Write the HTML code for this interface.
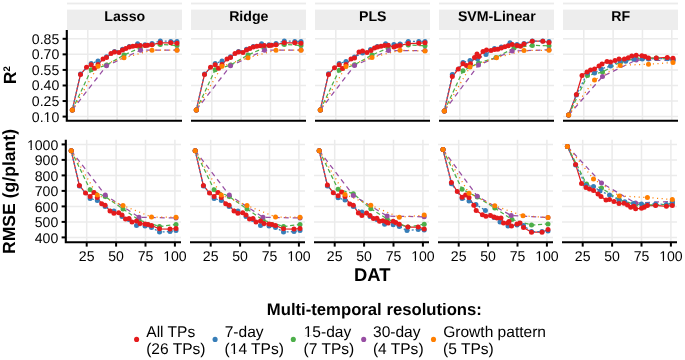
<!DOCTYPE html>
<html><head><meta charset="utf-8"><style>html,body{margin:0;padding:0;background:#fff;width:685px;height:360px;overflow:hidden}svg{display:block;will-change:transform}text{font-family:"Liberation Sans",sans-serif;text-rendering:geometricPrecision}</style></head><body>
<svg width="685" height="360" viewBox="0 0 685 360">
<rect width="685" height="360" fill="#fff"/>
<rect x="67" y="2.6" width="115" height="1.8" fill="#EBEBEB"/>
<rect x="67" y="9.6" width="115" height="20.40" fill="#EDEDED"/>
<text x="124.8" y="21.1" font-family="Liberation Sans, sans-serif" font-weight="bold" font-size="14.15" text-anchor="middle">Lasso</text>
<line x1="87.80" y1="29.9" x2="87.80" y2="120.7" stroke="#EBEBEB" stroke-width="1.5"/>
<line x1="117.13" y1="29.9" x2="117.13" y2="120.7" stroke="#EBEBEB" stroke-width="1.5"/>
<line x1="146.47" y1="29.9" x2="146.47" y2="120.7" stroke="#EBEBEB" stroke-width="1.5"/>
<line x1="175.80" y1="29.9" x2="175.80" y2="120.7" stroke="#EBEBEB" stroke-width="1.5"/>
<line x1="67" y1="116.60" x2="182" y2="116.60" stroke="#EBEBEB" stroke-width="1.5"/>
<line x1="67" y1="101.04" x2="182" y2="101.04" stroke="#EBEBEB" stroke-width="1.5"/>
<line x1="67" y1="85.48" x2="182" y2="85.48" stroke="#EBEBEB" stroke-width="1.5"/>
<line x1="67" y1="69.92" x2="182" y2="69.92" stroke="#EBEBEB" stroke-width="1.5"/>
<line x1="67" y1="54.36" x2="182" y2="54.36" stroke="#EBEBEB" stroke-width="1.5"/>
<line x1="67" y1="38.80" x2="182" y2="38.80" stroke="#EBEBEB" stroke-width="1.5"/>
<line x1="86.70" y1="139.8" x2="86.70" y2="242.2" stroke="#EBEBEB" stroke-width="1.5"/>
<line x1="116.10" y1="139.8" x2="116.10" y2="242.2" stroke="#EBEBEB" stroke-width="1.5"/>
<line x1="145.50" y1="139.8" x2="145.50" y2="242.2" stroke="#EBEBEB" stroke-width="1.5"/>
<line x1="174.90" y1="139.8" x2="174.90" y2="242.2" stroke="#EBEBEB" stroke-width="1.5"/>
<line x1="66" y1="237.40" x2="181" y2="237.40" stroke="#EBEBEB" stroke-width="1.5"/>
<line x1="66" y1="221.90" x2="181" y2="221.90" stroke="#EBEBEB" stroke-width="1.5"/>
<line x1="66" y1="206.40" x2="181" y2="206.40" stroke="#EBEBEB" stroke-width="1.5"/>
<line x1="66" y1="190.90" x2="181" y2="190.90" stroke="#EBEBEB" stroke-width="1.5"/>
<line x1="66" y1="175.40" x2="181" y2="175.40" stroke="#EBEBEB" stroke-width="1.5"/>
<line x1="66" y1="159.90" x2="181" y2="159.90" stroke="#EBEBEB" stroke-width="1.5"/>
<line x1="66" y1="144.40" x2="181" y2="144.40" stroke="#EBEBEB" stroke-width="1.5"/>
<rect x="191" y="2.6" width="115" height="1.8" fill="#EBEBEB"/>
<rect x="191" y="9.6" width="115" height="20.40" fill="#EDEDED"/>
<text x="248.8" y="21.1" font-family="Liberation Sans, sans-serif" font-weight="bold" font-size="14.15" text-anchor="middle">Ridge</text>
<line x1="211.80" y1="29.9" x2="211.80" y2="120.7" stroke="#EBEBEB" stroke-width="1.5"/>
<line x1="241.13" y1="29.9" x2="241.13" y2="120.7" stroke="#EBEBEB" stroke-width="1.5"/>
<line x1="270.47" y1="29.9" x2="270.47" y2="120.7" stroke="#EBEBEB" stroke-width="1.5"/>
<line x1="299.80" y1="29.9" x2="299.80" y2="120.7" stroke="#EBEBEB" stroke-width="1.5"/>
<line x1="191" y1="116.60" x2="306" y2="116.60" stroke="#EBEBEB" stroke-width="1.5"/>
<line x1="191" y1="101.04" x2="306" y2="101.04" stroke="#EBEBEB" stroke-width="1.5"/>
<line x1="191" y1="85.48" x2="306" y2="85.48" stroke="#EBEBEB" stroke-width="1.5"/>
<line x1="191" y1="69.92" x2="306" y2="69.92" stroke="#EBEBEB" stroke-width="1.5"/>
<line x1="191" y1="54.36" x2="306" y2="54.36" stroke="#EBEBEB" stroke-width="1.5"/>
<line x1="191" y1="38.80" x2="306" y2="38.80" stroke="#EBEBEB" stroke-width="1.5"/>
<line x1="210.70" y1="139.8" x2="210.70" y2="242.2" stroke="#EBEBEB" stroke-width="1.5"/>
<line x1="240.10" y1="139.8" x2="240.10" y2="242.2" stroke="#EBEBEB" stroke-width="1.5"/>
<line x1="269.50" y1="139.8" x2="269.50" y2="242.2" stroke="#EBEBEB" stroke-width="1.5"/>
<line x1="298.90" y1="139.8" x2="298.90" y2="242.2" stroke="#EBEBEB" stroke-width="1.5"/>
<line x1="190" y1="237.40" x2="305" y2="237.40" stroke="#EBEBEB" stroke-width="1.5"/>
<line x1="190" y1="221.90" x2="305" y2="221.90" stroke="#EBEBEB" stroke-width="1.5"/>
<line x1="190" y1="206.40" x2="305" y2="206.40" stroke="#EBEBEB" stroke-width="1.5"/>
<line x1="190" y1="190.90" x2="305" y2="190.90" stroke="#EBEBEB" stroke-width="1.5"/>
<line x1="190" y1="175.40" x2="305" y2="175.40" stroke="#EBEBEB" stroke-width="1.5"/>
<line x1="190" y1="159.90" x2="305" y2="159.90" stroke="#EBEBEB" stroke-width="1.5"/>
<line x1="190" y1="144.40" x2="305" y2="144.40" stroke="#EBEBEB" stroke-width="1.5"/>
<rect x="315" y="2.6" width="115" height="1.8" fill="#EBEBEB"/>
<rect x="315" y="9.6" width="115" height="20.40" fill="#EDEDED"/>
<text x="372.8" y="21.1" font-family="Liberation Sans, sans-serif" font-weight="bold" font-size="14.15" text-anchor="middle">PLS</text>
<line x1="335.80" y1="29.9" x2="335.80" y2="120.7" stroke="#EBEBEB" stroke-width="1.5"/>
<line x1="365.13" y1="29.9" x2="365.13" y2="120.7" stroke="#EBEBEB" stroke-width="1.5"/>
<line x1="394.47" y1="29.9" x2="394.47" y2="120.7" stroke="#EBEBEB" stroke-width="1.5"/>
<line x1="423.80" y1="29.9" x2="423.80" y2="120.7" stroke="#EBEBEB" stroke-width="1.5"/>
<line x1="315" y1="116.60" x2="430" y2="116.60" stroke="#EBEBEB" stroke-width="1.5"/>
<line x1="315" y1="101.04" x2="430" y2="101.04" stroke="#EBEBEB" stroke-width="1.5"/>
<line x1="315" y1="85.48" x2="430" y2="85.48" stroke="#EBEBEB" stroke-width="1.5"/>
<line x1="315" y1="69.92" x2="430" y2="69.92" stroke="#EBEBEB" stroke-width="1.5"/>
<line x1="315" y1="54.36" x2="430" y2="54.36" stroke="#EBEBEB" stroke-width="1.5"/>
<line x1="315" y1="38.80" x2="430" y2="38.80" stroke="#EBEBEB" stroke-width="1.5"/>
<line x1="334.70" y1="139.8" x2="334.70" y2="242.2" stroke="#EBEBEB" stroke-width="1.5"/>
<line x1="364.10" y1="139.8" x2="364.10" y2="242.2" stroke="#EBEBEB" stroke-width="1.5"/>
<line x1="393.50" y1="139.8" x2="393.50" y2="242.2" stroke="#EBEBEB" stroke-width="1.5"/>
<line x1="422.90" y1="139.8" x2="422.90" y2="242.2" stroke="#EBEBEB" stroke-width="1.5"/>
<line x1="314" y1="237.40" x2="429" y2="237.40" stroke="#EBEBEB" stroke-width="1.5"/>
<line x1="314" y1="221.90" x2="429" y2="221.90" stroke="#EBEBEB" stroke-width="1.5"/>
<line x1="314" y1="206.40" x2="429" y2="206.40" stroke="#EBEBEB" stroke-width="1.5"/>
<line x1="314" y1="190.90" x2="429" y2="190.90" stroke="#EBEBEB" stroke-width="1.5"/>
<line x1="314" y1="175.40" x2="429" y2="175.40" stroke="#EBEBEB" stroke-width="1.5"/>
<line x1="314" y1="159.90" x2="429" y2="159.90" stroke="#EBEBEB" stroke-width="1.5"/>
<line x1="314" y1="144.40" x2="429" y2="144.40" stroke="#EBEBEB" stroke-width="1.5"/>
<rect x="439" y="2.6" width="115" height="1.8" fill="#EBEBEB"/>
<rect x="439" y="9.6" width="115" height="20.40" fill="#EDEDED"/>
<text x="496.8" y="21.1" font-family="Liberation Sans, sans-serif" font-weight="bold" font-size="14.15" text-anchor="middle">SVM-Linear</text>
<line x1="459.80" y1="29.9" x2="459.80" y2="120.7" stroke="#EBEBEB" stroke-width="1.5"/>
<line x1="489.13" y1="29.9" x2="489.13" y2="120.7" stroke="#EBEBEB" stroke-width="1.5"/>
<line x1="518.47" y1="29.9" x2="518.47" y2="120.7" stroke="#EBEBEB" stroke-width="1.5"/>
<line x1="547.80" y1="29.9" x2="547.80" y2="120.7" stroke="#EBEBEB" stroke-width="1.5"/>
<line x1="439" y1="116.60" x2="554" y2="116.60" stroke="#EBEBEB" stroke-width="1.5"/>
<line x1="439" y1="101.04" x2="554" y2="101.04" stroke="#EBEBEB" stroke-width="1.5"/>
<line x1="439" y1="85.48" x2="554" y2="85.48" stroke="#EBEBEB" stroke-width="1.5"/>
<line x1="439" y1="69.92" x2="554" y2="69.92" stroke="#EBEBEB" stroke-width="1.5"/>
<line x1="439" y1="54.36" x2="554" y2="54.36" stroke="#EBEBEB" stroke-width="1.5"/>
<line x1="439" y1="38.80" x2="554" y2="38.80" stroke="#EBEBEB" stroke-width="1.5"/>
<line x1="458.70" y1="139.8" x2="458.70" y2="242.2" stroke="#EBEBEB" stroke-width="1.5"/>
<line x1="488.10" y1="139.8" x2="488.10" y2="242.2" stroke="#EBEBEB" stroke-width="1.5"/>
<line x1="517.50" y1="139.8" x2="517.50" y2="242.2" stroke="#EBEBEB" stroke-width="1.5"/>
<line x1="546.90" y1="139.8" x2="546.90" y2="242.2" stroke="#EBEBEB" stroke-width="1.5"/>
<line x1="438" y1="237.40" x2="553" y2="237.40" stroke="#EBEBEB" stroke-width="1.5"/>
<line x1="438" y1="221.90" x2="553" y2="221.90" stroke="#EBEBEB" stroke-width="1.5"/>
<line x1="438" y1="206.40" x2="553" y2="206.40" stroke="#EBEBEB" stroke-width="1.5"/>
<line x1="438" y1="190.90" x2="553" y2="190.90" stroke="#EBEBEB" stroke-width="1.5"/>
<line x1="438" y1="175.40" x2="553" y2="175.40" stroke="#EBEBEB" stroke-width="1.5"/>
<line x1="438" y1="159.90" x2="553" y2="159.90" stroke="#EBEBEB" stroke-width="1.5"/>
<line x1="438" y1="144.40" x2="553" y2="144.40" stroke="#EBEBEB" stroke-width="1.5"/>
<rect x="563" y="2.6" width="115" height="1.8" fill="#EBEBEB"/>
<rect x="563" y="9.6" width="115" height="20.40" fill="#EDEDED"/>
<text x="620.8" y="21.1" font-family="Liberation Sans, sans-serif" font-weight="bold" font-size="14.15" text-anchor="middle">RF</text>
<line x1="583.80" y1="29.9" x2="583.80" y2="120.7" stroke="#EBEBEB" stroke-width="1.5"/>
<line x1="613.13" y1="29.9" x2="613.13" y2="120.7" stroke="#EBEBEB" stroke-width="1.5"/>
<line x1="642.46" y1="29.9" x2="642.46" y2="120.7" stroke="#EBEBEB" stroke-width="1.5"/>
<line x1="671.80" y1="29.9" x2="671.80" y2="120.7" stroke="#EBEBEB" stroke-width="1.5"/>
<line x1="563" y1="116.60" x2="678" y2="116.60" stroke="#EBEBEB" stroke-width="1.5"/>
<line x1="563" y1="101.04" x2="678" y2="101.04" stroke="#EBEBEB" stroke-width="1.5"/>
<line x1="563" y1="85.48" x2="678" y2="85.48" stroke="#EBEBEB" stroke-width="1.5"/>
<line x1="563" y1="69.92" x2="678" y2="69.92" stroke="#EBEBEB" stroke-width="1.5"/>
<line x1="563" y1="54.36" x2="678" y2="54.36" stroke="#EBEBEB" stroke-width="1.5"/>
<line x1="563" y1="38.80" x2="678" y2="38.80" stroke="#EBEBEB" stroke-width="1.5"/>
<line x1="582.70" y1="139.8" x2="582.70" y2="242.2" stroke="#EBEBEB" stroke-width="1.5"/>
<line x1="612.10" y1="139.8" x2="612.10" y2="242.2" stroke="#EBEBEB" stroke-width="1.5"/>
<line x1="641.50" y1="139.8" x2="641.50" y2="242.2" stroke="#EBEBEB" stroke-width="1.5"/>
<line x1="670.90" y1="139.8" x2="670.90" y2="242.2" stroke="#EBEBEB" stroke-width="1.5"/>
<line x1="562" y1="237.40" x2="677" y2="237.40" stroke="#EBEBEB" stroke-width="1.5"/>
<line x1="562" y1="221.90" x2="677" y2="221.90" stroke="#EBEBEB" stroke-width="1.5"/>
<line x1="562" y1="206.40" x2="677" y2="206.40" stroke="#EBEBEB" stroke-width="1.5"/>
<line x1="562" y1="190.90" x2="677" y2="190.90" stroke="#EBEBEB" stroke-width="1.5"/>
<line x1="562" y1="175.40" x2="677" y2="175.40" stroke="#EBEBEB" stroke-width="1.5"/>
<line x1="562" y1="159.90" x2="677" y2="159.90" stroke="#EBEBEB" stroke-width="1.5"/>
<line x1="562" y1="144.40" x2="677" y2="144.40" stroke="#EBEBEB" stroke-width="1.5"/>
<polyline points="72.3,109.9 80.5,74.6 86.5,67.2 91.2,64.8 94.5,68.2 98.0,64.5 103.0,59.0 106.5,57.5 111.0,53.5 114.5,52.0 119.0,52.5 122.5,50.0 125.8,48.4 129.3,47.1 132.8,46.3 136.3,45.8 140.2,45.4 145.0,45.4 147.6,45.2 152.0,44.7 160.3,42.8 170.8,42.8 177.0,43.2" fill="none" stroke="#E41A1C" stroke-width="1.25" />
<polyline points="72.3,109.9 80.5,74.0 91.2,63.5 98.0,61.0 106.5,56.8 114.5,51.5 122.5,49.3 129.3,46.5 137.6,43.8 145.0,44.8 152.0,43.6 160.3,41.0 170.8,41.4 177.0,41.4" fill="none" stroke="#377EB8" stroke-width="1.25" stroke-dasharray="2,2.2"/>
<polyline points="72.3,109.9 91.2,69.8 106.5,65.0 124.0,55.0 140.2,47.8 160.3,44.5 177.0,45.4" fill="none" stroke="#4DAF4A" stroke-width="1.25" stroke-dasharray="4.2,2.6"/>
<polyline points="72.3,109.9 106.5,65.8 140.6,50.2 177.0,50.0" fill="none" stroke="#984EA3" stroke-width="1.25" stroke-dasharray="5,4"/>
<polyline points="72.3,109.9 98.0,66.2 124.0,57.8 152.0,50.2 177.0,50.2" fill="none" stroke="#FF7F00" stroke-width="1.25" stroke-dasharray="1.1,3.5"/>
<circle cx="72.3" cy="109.9" r="2.5" fill="#4DAF4A"/>
<circle cx="91.2" cy="69.8" r="2.5" fill="#4DAF4A"/>
<circle cx="106.5" cy="65.0" r="2.5" fill="#4DAF4A"/>
<circle cx="124.0" cy="55.0" r="2.5" fill="#4DAF4A"/>
<circle cx="140.2" cy="47.8" r="2.5" fill="#4DAF4A"/>
<circle cx="160.3" cy="44.5" r="2.5" fill="#4DAF4A"/>
<circle cx="177.0" cy="45.4" r="2.5" fill="#4DAF4A"/>
<circle cx="72.3" cy="109.9" r="2.5" fill="#984EA3"/>
<circle cx="106.5" cy="65.8" r="2.5" fill="#984EA3"/>
<circle cx="140.6" cy="50.2" r="2.5" fill="#984EA3"/>
<circle cx="177.0" cy="50.0" r="2.5" fill="#984EA3"/>
<circle cx="72.3" cy="109.9" r="2.5" fill="#377EB8"/>
<circle cx="80.5" cy="74.0" r="2.5" fill="#377EB8"/>
<circle cx="91.2" cy="63.5" r="2.5" fill="#377EB8"/>
<circle cx="98.0" cy="61.0" r="2.5" fill="#377EB8"/>
<circle cx="106.5" cy="56.8" r="2.5" fill="#377EB8"/>
<circle cx="114.5" cy="51.5" r="2.5" fill="#377EB8"/>
<circle cx="122.5" cy="49.3" r="2.5" fill="#377EB8"/>
<circle cx="129.3" cy="46.5" r="2.5" fill="#377EB8"/>
<circle cx="137.6" cy="43.8" r="2.5" fill="#377EB8"/>
<circle cx="145.0" cy="44.8" r="2.5" fill="#377EB8"/>
<circle cx="152.0" cy="43.6" r="2.5" fill="#377EB8"/>
<circle cx="160.3" cy="41.0" r="2.5" fill="#377EB8"/>
<circle cx="170.8" cy="41.4" r="2.5" fill="#377EB8"/>
<circle cx="177.0" cy="41.4" r="2.5" fill="#377EB8"/>
<circle cx="72.3" cy="109.9" r="2.5" fill="#E41A1C"/>
<circle cx="80.5" cy="74.6" r="2.5" fill="#E41A1C"/>
<circle cx="86.5" cy="67.2" r="2.5" fill="#E41A1C"/>
<circle cx="91.2" cy="64.8" r="2.5" fill="#E41A1C"/>
<circle cx="94.5" cy="68.2" r="2.5" fill="#E41A1C"/>
<circle cx="98.0" cy="64.5" r="2.5" fill="#E41A1C"/>
<circle cx="103.0" cy="59.0" r="2.5" fill="#E41A1C"/>
<circle cx="106.5" cy="57.5" r="2.5" fill="#E41A1C"/>
<circle cx="111.0" cy="53.5" r="2.5" fill="#E41A1C"/>
<circle cx="114.5" cy="52.0" r="2.5" fill="#E41A1C"/>
<circle cx="119.0" cy="52.5" r="2.5" fill="#E41A1C"/>
<circle cx="122.5" cy="50.0" r="2.5" fill="#E41A1C"/>
<circle cx="125.8" cy="48.4" r="2.5" fill="#E41A1C"/>
<circle cx="129.3" cy="47.1" r="2.5" fill="#E41A1C"/>
<circle cx="132.8" cy="46.3" r="2.5" fill="#E41A1C"/>
<circle cx="136.3" cy="45.8" r="2.5" fill="#E41A1C"/>
<circle cx="140.2" cy="45.4" r="2.5" fill="#E41A1C"/>
<circle cx="145.0" cy="45.4" r="2.5" fill="#E41A1C"/>
<circle cx="147.6" cy="45.2" r="2.5" fill="#E41A1C"/>
<circle cx="152.0" cy="44.7" r="2.5" fill="#E41A1C"/>
<circle cx="160.3" cy="42.8" r="2.5" fill="#E41A1C"/>
<circle cx="170.8" cy="42.8" r="2.5" fill="#E41A1C"/>
<circle cx="177.0" cy="43.2" r="2.5" fill="#E41A1C"/>
<circle cx="72.3" cy="109.9" r="2.5" fill="#FF7F00"/>
<circle cx="98.0" cy="66.2" r="2.5" fill="#FF7F00"/>
<circle cx="124.0" cy="57.8" r="2.5" fill="#FF7F00"/>
<circle cx="152.0" cy="50.2" r="2.5" fill="#FF7F00"/>
<circle cx="177.0" cy="50.2" r="2.5" fill="#FF7F00"/>
<polyline points="71.2,150.7 79.4,185.4 85.5,193.1 90.1,196.5 93.9,192.6 97.3,197.5 101.7,203.8 105.1,205.3 110.0,211.1 113.9,213.3 118.7,212.8 122.0,215.0 125.5,219.0 129.0,218.5 132.0,222.0 136.5,221.0 140.0,223.5 145.0,224.0 148.0,224.5 151.5,225.5 159.5,228.8 170.0,229.0 176.0,228.5" fill="none" stroke="#E41A1C" stroke-width="1.25" />
<polyline points="71.2,150.7 79.4,186.0 90.1,198.5 97.3,200.4 105.1,206.5 113.9,211.1 122.0,216.5 129.0,219.5 136.5,225.5 145.0,226.0 151.5,227.5 159.5,232.0 170.0,231.5 176.0,230.5" fill="none" stroke="#377EB8" stroke-width="1.25" stroke-dasharray="2,2.2"/>
<polyline points="71.2,150.7 90.1,189.7 105.2,196.5 123.0,209.0 139.0,220.0 159.5,226.5 176.0,224.5" fill="none" stroke="#4DAF4A" stroke-width="1.25" stroke-dasharray="4.2,2.6"/>
<polyline points="71.2,150.7 105.3,195.1 139.0,217.2 176.0,218.0" fill="none" stroke="#984EA3" stroke-width="1.25" stroke-dasharray="5,4"/>
<polyline points="71.2,150.7 97.3,195.1 123.0,205.5 151.5,217.0 176.0,217.2" fill="none" stroke="#FF7F00" stroke-width="1.25" stroke-dasharray="1.1,3.5"/>
<circle cx="71.2" cy="150.7" r="2.5" fill="#4DAF4A"/>
<circle cx="90.1" cy="189.7" r="2.5" fill="#4DAF4A"/>
<circle cx="105.2" cy="196.5" r="2.5" fill="#4DAF4A"/>
<circle cx="123.0" cy="209.0" r="2.5" fill="#4DAF4A"/>
<circle cx="139.0" cy="220.0" r="2.5" fill="#4DAF4A"/>
<circle cx="159.5" cy="226.5" r="2.5" fill="#4DAF4A"/>
<circle cx="176.0" cy="224.5" r="2.5" fill="#4DAF4A"/>
<circle cx="71.2" cy="150.7" r="2.5" fill="#984EA3"/>
<circle cx="105.3" cy="195.1" r="2.5" fill="#984EA3"/>
<circle cx="139.0" cy="217.2" r="2.5" fill="#984EA3"/>
<circle cx="176.0" cy="218.0" r="2.5" fill="#984EA3"/>
<circle cx="71.2" cy="150.7" r="2.5" fill="#377EB8"/>
<circle cx="79.4" cy="186.0" r="2.5" fill="#377EB8"/>
<circle cx="90.1" cy="198.5" r="2.5" fill="#377EB8"/>
<circle cx="97.3" cy="200.4" r="2.5" fill="#377EB8"/>
<circle cx="105.1" cy="206.5" r="2.5" fill="#377EB8"/>
<circle cx="113.9" cy="211.1" r="2.5" fill="#377EB8"/>
<circle cx="122.0" cy="216.5" r="2.5" fill="#377EB8"/>
<circle cx="129.0" cy="219.5" r="2.5" fill="#377EB8"/>
<circle cx="136.5" cy="225.5" r="2.5" fill="#377EB8"/>
<circle cx="145.0" cy="226.0" r="2.5" fill="#377EB8"/>
<circle cx="151.5" cy="227.5" r="2.5" fill="#377EB8"/>
<circle cx="159.5" cy="232.0" r="2.5" fill="#377EB8"/>
<circle cx="170.0" cy="231.5" r="2.5" fill="#377EB8"/>
<circle cx="176.0" cy="230.5" r="2.5" fill="#377EB8"/>
<circle cx="71.2" cy="150.7" r="2.5" fill="#E41A1C"/>
<circle cx="79.4" cy="185.4" r="2.5" fill="#E41A1C"/>
<circle cx="85.5" cy="193.1" r="2.5" fill="#E41A1C"/>
<circle cx="90.1" cy="196.5" r="2.5" fill="#E41A1C"/>
<circle cx="93.9" cy="192.6" r="2.5" fill="#E41A1C"/>
<circle cx="97.3" cy="197.5" r="2.5" fill="#E41A1C"/>
<circle cx="101.7" cy="203.8" r="2.5" fill="#E41A1C"/>
<circle cx="105.1" cy="205.3" r="2.5" fill="#E41A1C"/>
<circle cx="110.0" cy="211.1" r="2.5" fill="#E41A1C"/>
<circle cx="113.9" cy="213.3" r="2.5" fill="#E41A1C"/>
<circle cx="118.7" cy="212.8" r="2.5" fill="#E41A1C"/>
<circle cx="122.0" cy="215.0" r="2.5" fill="#E41A1C"/>
<circle cx="125.5" cy="219.0" r="2.5" fill="#E41A1C"/>
<circle cx="129.0" cy="218.5" r="2.5" fill="#E41A1C"/>
<circle cx="132.0" cy="222.0" r="2.5" fill="#E41A1C"/>
<circle cx="136.5" cy="221.0" r="2.5" fill="#E41A1C"/>
<circle cx="140.0" cy="223.5" r="2.5" fill="#E41A1C"/>
<circle cx="145.0" cy="224.0" r="2.5" fill="#E41A1C"/>
<circle cx="148.0" cy="224.5" r="2.5" fill="#E41A1C"/>
<circle cx="151.5" cy="225.5" r="2.5" fill="#E41A1C"/>
<circle cx="159.5" cy="228.8" r="2.5" fill="#E41A1C"/>
<circle cx="170.0" cy="229.0" r="2.5" fill="#E41A1C"/>
<circle cx="176.0" cy="228.5" r="2.5" fill="#E41A1C"/>
<circle cx="71.2" cy="150.7" r="2.5" fill="#FF7F00"/>
<circle cx="97.3" cy="195.1" r="2.5" fill="#FF7F00"/>
<circle cx="123.0" cy="205.5" r="2.5" fill="#FF7F00"/>
<circle cx="151.5" cy="217.0" r="2.5" fill="#FF7F00"/>
<circle cx="176.0" cy="217.2" r="2.5" fill="#FF7F00"/>
<polyline points="196.3,109.9 204.5,74.6 210.5,67.2 215.2,64.8 218.5,68.2 222.0,64.5 227.0,59.0 230.5,57.5 235.0,53.5 238.5,52.0 243.0,52.5 246.5,50.0 249.8,48.4 253.3,47.1 256.8,46.3 260.3,45.8 264.2,45.4 269.0,45.4 271.6,45.2 276.0,44.7 284.3,42.8 294.8,42.8 301.0,43.2" fill="none" stroke="#E41A1C" stroke-width="1.25" />
<polyline points="196.3,109.9 204.5,74.0 215.2,63.5 222.0,61.0 230.5,56.8 238.5,51.5 246.5,49.3 253.3,46.5 261.6,43.8 269.0,44.8 276.0,43.6 284.3,41.0 294.8,41.4 301.0,41.4" fill="none" stroke="#377EB8" stroke-width="1.25" stroke-dasharray="2,2.2"/>
<polyline points="196.3,109.9 215.2,69.8 230.5,65.0 248.0,55.0 264.2,47.8 284.3,44.5 301.0,45.4" fill="none" stroke="#4DAF4A" stroke-width="1.25" stroke-dasharray="4.2,2.6"/>
<polyline points="196.3,109.9 230.5,65.8 264.6,50.2 301.0,50.0" fill="none" stroke="#984EA3" stroke-width="1.25" stroke-dasharray="5,4"/>
<polyline points="196.3,109.9 222.0,66.2 248.0,57.8 276.0,50.2 301.0,50.2" fill="none" stroke="#FF7F00" stroke-width="1.25" stroke-dasharray="1.1,3.5"/>
<circle cx="196.3" cy="109.9" r="2.5" fill="#4DAF4A"/>
<circle cx="215.2" cy="69.8" r="2.5" fill="#4DAF4A"/>
<circle cx="230.5" cy="65.0" r="2.5" fill="#4DAF4A"/>
<circle cx="248.0" cy="55.0" r="2.5" fill="#4DAF4A"/>
<circle cx="264.2" cy="47.8" r="2.5" fill="#4DAF4A"/>
<circle cx="284.3" cy="44.5" r="2.5" fill="#4DAF4A"/>
<circle cx="301.0" cy="45.4" r="2.5" fill="#4DAF4A"/>
<circle cx="196.3" cy="109.9" r="2.5" fill="#984EA3"/>
<circle cx="230.5" cy="65.8" r="2.5" fill="#984EA3"/>
<circle cx="264.6" cy="50.2" r="2.5" fill="#984EA3"/>
<circle cx="301.0" cy="50.0" r="2.5" fill="#984EA3"/>
<circle cx="196.3" cy="109.9" r="2.5" fill="#377EB8"/>
<circle cx="204.5" cy="74.0" r="2.5" fill="#377EB8"/>
<circle cx="215.2" cy="63.5" r="2.5" fill="#377EB8"/>
<circle cx="222.0" cy="61.0" r="2.5" fill="#377EB8"/>
<circle cx="230.5" cy="56.8" r="2.5" fill="#377EB8"/>
<circle cx="238.5" cy="51.5" r="2.5" fill="#377EB8"/>
<circle cx="246.5" cy="49.3" r="2.5" fill="#377EB8"/>
<circle cx="253.3" cy="46.5" r="2.5" fill="#377EB8"/>
<circle cx="261.6" cy="43.8" r="2.5" fill="#377EB8"/>
<circle cx="269.0" cy="44.8" r="2.5" fill="#377EB8"/>
<circle cx="276.0" cy="43.6" r="2.5" fill="#377EB8"/>
<circle cx="284.3" cy="41.0" r="2.5" fill="#377EB8"/>
<circle cx="294.8" cy="41.4" r="2.5" fill="#377EB8"/>
<circle cx="301.0" cy="41.4" r="2.5" fill="#377EB8"/>
<circle cx="196.3" cy="109.9" r="2.5" fill="#E41A1C"/>
<circle cx="204.5" cy="74.6" r="2.5" fill="#E41A1C"/>
<circle cx="210.5" cy="67.2" r="2.5" fill="#E41A1C"/>
<circle cx="215.2" cy="64.8" r="2.5" fill="#E41A1C"/>
<circle cx="218.5" cy="68.2" r="2.5" fill="#E41A1C"/>
<circle cx="222.0" cy="64.5" r="2.5" fill="#E41A1C"/>
<circle cx="227.0" cy="59.0" r="2.5" fill="#E41A1C"/>
<circle cx="230.5" cy="57.5" r="2.5" fill="#E41A1C"/>
<circle cx="235.0" cy="53.5" r="2.5" fill="#E41A1C"/>
<circle cx="238.5" cy="52.0" r="2.5" fill="#E41A1C"/>
<circle cx="243.0" cy="52.5" r="2.5" fill="#E41A1C"/>
<circle cx="246.5" cy="50.0" r="2.5" fill="#E41A1C"/>
<circle cx="249.8" cy="48.4" r="2.5" fill="#E41A1C"/>
<circle cx="253.3" cy="47.1" r="2.5" fill="#E41A1C"/>
<circle cx="256.8" cy="46.3" r="2.5" fill="#E41A1C"/>
<circle cx="260.3" cy="45.8" r="2.5" fill="#E41A1C"/>
<circle cx="264.2" cy="45.4" r="2.5" fill="#E41A1C"/>
<circle cx="269.0" cy="45.4" r="2.5" fill="#E41A1C"/>
<circle cx="271.6" cy="45.2" r="2.5" fill="#E41A1C"/>
<circle cx="276.0" cy="44.7" r="2.5" fill="#E41A1C"/>
<circle cx="284.3" cy="42.8" r="2.5" fill="#E41A1C"/>
<circle cx="294.8" cy="42.8" r="2.5" fill="#E41A1C"/>
<circle cx="301.0" cy="43.2" r="2.5" fill="#E41A1C"/>
<circle cx="196.3" cy="109.9" r="2.5" fill="#FF7F00"/>
<circle cx="222.0" cy="66.2" r="2.5" fill="#FF7F00"/>
<circle cx="248.0" cy="57.8" r="2.5" fill="#FF7F00"/>
<circle cx="276.0" cy="50.2" r="2.5" fill="#FF7F00"/>
<circle cx="301.0" cy="50.2" r="2.5" fill="#FF7F00"/>
<polyline points="195.2,150.7 203.4,185.4 209.5,193.1 214.1,196.5 217.9,192.6 221.3,197.5 225.7,203.8 229.1,205.3 234.0,211.1 237.9,213.3 242.7,212.8 246.0,215.0 249.5,219.0 253.0,218.5 256.0,222.0 260.5,221.0 264.0,223.5 269.0,224.0 272.0,224.5 275.5,225.5 283.5,228.8 294.0,229.0 300.0,228.5" fill="none" stroke="#E41A1C" stroke-width="1.25" />
<polyline points="195.2,150.7 203.4,186.0 214.1,198.5 221.3,200.4 229.1,206.5 237.9,211.1 246.0,216.5 253.0,219.5 260.5,225.5 269.0,226.0 275.5,227.5 283.5,232.0 294.0,231.5 300.0,230.5" fill="none" stroke="#377EB8" stroke-width="1.25" stroke-dasharray="2,2.2"/>
<polyline points="195.2,150.7 214.1,189.7 229.2,196.5 247.0,209.0 263.0,220.0 283.5,226.5 300.0,224.5" fill="none" stroke="#4DAF4A" stroke-width="1.25" stroke-dasharray="4.2,2.6"/>
<polyline points="195.2,150.7 229.3,195.1 263.0,217.2 300.0,218.0" fill="none" stroke="#984EA3" stroke-width="1.25" stroke-dasharray="5,4"/>
<polyline points="195.2,150.7 221.3,195.1 247.0,205.5 275.5,217.0 300.0,217.2" fill="none" stroke="#FF7F00" stroke-width="1.25" stroke-dasharray="1.1,3.5"/>
<circle cx="195.2" cy="150.7" r="2.5" fill="#4DAF4A"/>
<circle cx="214.1" cy="189.7" r="2.5" fill="#4DAF4A"/>
<circle cx="229.2" cy="196.5" r="2.5" fill="#4DAF4A"/>
<circle cx="247.0" cy="209.0" r="2.5" fill="#4DAF4A"/>
<circle cx="263.0" cy="220.0" r="2.5" fill="#4DAF4A"/>
<circle cx="283.5" cy="226.5" r="2.5" fill="#4DAF4A"/>
<circle cx="300.0" cy="224.5" r="2.5" fill="#4DAF4A"/>
<circle cx="195.2" cy="150.7" r="2.5" fill="#984EA3"/>
<circle cx="229.3" cy="195.1" r="2.5" fill="#984EA3"/>
<circle cx="263.0" cy="217.2" r="2.5" fill="#984EA3"/>
<circle cx="300.0" cy="218.0" r="2.5" fill="#984EA3"/>
<circle cx="195.2" cy="150.7" r="2.5" fill="#377EB8"/>
<circle cx="203.4" cy="186.0" r="2.5" fill="#377EB8"/>
<circle cx="214.1" cy="198.5" r="2.5" fill="#377EB8"/>
<circle cx="221.3" cy="200.4" r="2.5" fill="#377EB8"/>
<circle cx="229.1" cy="206.5" r="2.5" fill="#377EB8"/>
<circle cx="237.9" cy="211.1" r="2.5" fill="#377EB8"/>
<circle cx="246.0" cy="216.5" r="2.5" fill="#377EB8"/>
<circle cx="253.0" cy="219.5" r="2.5" fill="#377EB8"/>
<circle cx="260.5" cy="225.5" r="2.5" fill="#377EB8"/>
<circle cx="269.0" cy="226.0" r="2.5" fill="#377EB8"/>
<circle cx="275.5" cy="227.5" r="2.5" fill="#377EB8"/>
<circle cx="283.5" cy="232.0" r="2.5" fill="#377EB8"/>
<circle cx="294.0" cy="231.5" r="2.5" fill="#377EB8"/>
<circle cx="300.0" cy="230.5" r="2.5" fill="#377EB8"/>
<circle cx="195.2" cy="150.7" r="2.5" fill="#E41A1C"/>
<circle cx="203.4" cy="185.4" r="2.5" fill="#E41A1C"/>
<circle cx="209.5" cy="193.1" r="2.5" fill="#E41A1C"/>
<circle cx="214.1" cy="196.5" r="2.5" fill="#E41A1C"/>
<circle cx="217.9" cy="192.6" r="2.5" fill="#E41A1C"/>
<circle cx="221.3" cy="197.5" r="2.5" fill="#E41A1C"/>
<circle cx="225.7" cy="203.8" r="2.5" fill="#E41A1C"/>
<circle cx="229.1" cy="205.3" r="2.5" fill="#E41A1C"/>
<circle cx="234.0" cy="211.1" r="2.5" fill="#E41A1C"/>
<circle cx="237.9" cy="213.3" r="2.5" fill="#E41A1C"/>
<circle cx="242.7" cy="212.8" r="2.5" fill="#E41A1C"/>
<circle cx="246.0" cy="215.0" r="2.5" fill="#E41A1C"/>
<circle cx="249.5" cy="219.0" r="2.5" fill="#E41A1C"/>
<circle cx="253.0" cy="218.5" r="2.5" fill="#E41A1C"/>
<circle cx="256.0" cy="222.0" r="2.5" fill="#E41A1C"/>
<circle cx="260.5" cy="221.0" r="2.5" fill="#E41A1C"/>
<circle cx="264.0" cy="223.5" r="2.5" fill="#E41A1C"/>
<circle cx="269.0" cy="224.0" r="2.5" fill="#E41A1C"/>
<circle cx="272.0" cy="224.5" r="2.5" fill="#E41A1C"/>
<circle cx="275.5" cy="225.5" r="2.5" fill="#E41A1C"/>
<circle cx="283.5" cy="228.8" r="2.5" fill="#E41A1C"/>
<circle cx="294.0" cy="229.0" r="2.5" fill="#E41A1C"/>
<circle cx="300.0" cy="228.5" r="2.5" fill="#E41A1C"/>
<circle cx="195.2" cy="150.7" r="2.5" fill="#FF7F00"/>
<circle cx="221.3" cy="195.1" r="2.5" fill="#FF7F00"/>
<circle cx="247.0" cy="205.5" r="2.5" fill="#FF7F00"/>
<circle cx="275.5" cy="217.0" r="2.5" fill="#FF7F00"/>
<circle cx="300.0" cy="217.2" r="2.5" fill="#FF7F00"/>
<polyline points="320.3,109.9 328.5,74.4 334.5,67.8 339.2,64.8 342.5,68.5 346.0,64.5 351.0,59.0 354.5,58.0 359.0,52.0 362.5,51.0 367.0,52.5 371.0,50.5 374.5,48.0 377.5,47.0 381.0,46.2 384.5,45.6 388.2,45.2 393.9,47.1 396.5,46.0 400.0,45.4 408.3,43.6 418.8,43.2 425.0,42.8" fill="none" stroke="#E41A1C" stroke-width="1.25" />
<polyline points="320.3,109.9 328.5,73.8 339.2,63.5 346.0,61.5 354.5,57.0 362.5,53.0 370.5,49.5 377.3,46.5 385.6,43.8 393.9,44.5 400.0,44.0 408.3,41.4 418.8,41.4 425.0,41.4" fill="none" stroke="#377EB8" stroke-width="1.25" stroke-dasharray="2,2.2"/>
<polyline points="320.3,109.9 339.2,70.2 354.5,64.8 372.0,55.0 388.2,48.0 408.3,45.0 425.0,45.8" fill="none" stroke="#4DAF4A" stroke-width="1.25" stroke-dasharray="4.2,2.6"/>
<polyline points="320.3,109.9 354.5,65.5 388.6,50.6 425.0,50.6" fill="none" stroke="#984EA3" stroke-width="1.25" stroke-dasharray="5,4"/>
<polyline points="320.3,109.9 346.0,66.5 372.0,57.5 400.0,50.2 425.0,51.1" fill="none" stroke="#FF7F00" stroke-width="1.25" stroke-dasharray="1.1,3.5"/>
<circle cx="320.3" cy="109.9" r="2.5" fill="#4DAF4A"/>
<circle cx="339.2" cy="70.2" r="2.5" fill="#4DAF4A"/>
<circle cx="354.5" cy="64.8" r="2.5" fill="#4DAF4A"/>
<circle cx="372.0" cy="55.0" r="2.5" fill="#4DAF4A"/>
<circle cx="388.2" cy="48.0" r="2.5" fill="#4DAF4A"/>
<circle cx="408.3" cy="45.0" r="2.5" fill="#4DAF4A"/>
<circle cx="425.0" cy="45.8" r="2.5" fill="#4DAF4A"/>
<circle cx="320.3" cy="109.9" r="2.5" fill="#984EA3"/>
<circle cx="354.5" cy="65.5" r="2.5" fill="#984EA3"/>
<circle cx="388.6" cy="50.6" r="2.5" fill="#984EA3"/>
<circle cx="425.0" cy="50.6" r="2.5" fill="#984EA3"/>
<circle cx="320.3" cy="109.9" r="2.5" fill="#377EB8"/>
<circle cx="328.5" cy="73.8" r="2.5" fill="#377EB8"/>
<circle cx="339.2" cy="63.5" r="2.5" fill="#377EB8"/>
<circle cx="346.0" cy="61.5" r="2.5" fill="#377EB8"/>
<circle cx="354.5" cy="57.0" r="2.5" fill="#377EB8"/>
<circle cx="362.5" cy="53.0" r="2.5" fill="#377EB8"/>
<circle cx="370.5" cy="49.5" r="2.5" fill="#377EB8"/>
<circle cx="377.3" cy="46.5" r="2.5" fill="#377EB8"/>
<circle cx="385.6" cy="43.8" r="2.5" fill="#377EB8"/>
<circle cx="393.9" cy="44.5" r="2.5" fill="#377EB8"/>
<circle cx="400.0" cy="44.0" r="2.5" fill="#377EB8"/>
<circle cx="408.3" cy="41.4" r="2.5" fill="#377EB8"/>
<circle cx="418.8" cy="41.4" r="2.5" fill="#377EB8"/>
<circle cx="425.0" cy="41.4" r="2.5" fill="#377EB8"/>
<circle cx="320.3" cy="109.9" r="2.5" fill="#E41A1C"/>
<circle cx="328.5" cy="74.4" r="2.5" fill="#E41A1C"/>
<circle cx="334.5" cy="67.8" r="2.5" fill="#E41A1C"/>
<circle cx="339.2" cy="64.8" r="2.5" fill="#E41A1C"/>
<circle cx="342.5" cy="68.5" r="2.5" fill="#E41A1C"/>
<circle cx="346.0" cy="64.5" r="2.5" fill="#E41A1C"/>
<circle cx="351.0" cy="59.0" r="2.5" fill="#E41A1C"/>
<circle cx="354.5" cy="58.0" r="2.5" fill="#E41A1C"/>
<circle cx="359.0" cy="52.0" r="2.5" fill="#E41A1C"/>
<circle cx="362.5" cy="51.0" r="2.5" fill="#E41A1C"/>
<circle cx="367.0" cy="52.5" r="2.5" fill="#E41A1C"/>
<circle cx="371.0" cy="50.5" r="2.5" fill="#E41A1C"/>
<circle cx="374.5" cy="48.0" r="2.5" fill="#E41A1C"/>
<circle cx="377.5" cy="47.0" r="2.5" fill="#E41A1C"/>
<circle cx="381.0" cy="46.2" r="2.5" fill="#E41A1C"/>
<circle cx="384.5" cy="45.6" r="2.5" fill="#E41A1C"/>
<circle cx="388.2" cy="45.2" r="2.5" fill="#E41A1C"/>
<circle cx="393.9" cy="47.1" r="2.5" fill="#E41A1C"/>
<circle cx="396.5" cy="46.0" r="2.5" fill="#E41A1C"/>
<circle cx="400.0" cy="45.4" r="2.5" fill="#E41A1C"/>
<circle cx="408.3" cy="43.6" r="2.5" fill="#E41A1C"/>
<circle cx="418.8" cy="43.2" r="2.5" fill="#E41A1C"/>
<circle cx="425.0" cy="42.8" r="2.5" fill="#E41A1C"/>
<circle cx="320.3" cy="109.9" r="2.5" fill="#FF7F00"/>
<circle cx="346.0" cy="66.5" r="2.5" fill="#FF7F00"/>
<circle cx="372.0" cy="57.5" r="2.5" fill="#FF7F00"/>
<circle cx="400.0" cy="50.2" r="2.5" fill="#FF7F00"/>
<circle cx="425.0" cy="51.1" r="2.5" fill="#FF7F00"/>
<polyline points="319.2,150.7 327.4,185.1 333.3,192.7 338.1,195.8 341.6,192.0 345.0,196.6 349.8,204.0 353.3,205.3 358.4,213.0 361.9,215.6 366.5,213.0 370.0,215.6 373.4,218.5 376.9,218.2 379.5,221.3 382.9,220.8 386.4,222.0 388.1,223.0 393.2,221.3 395.8,222.5 399.3,224.2 407.9,227.1 418.2,227.1 424.2,228.9" fill="none" stroke="#E41A1C" stroke-width="1.25" />
<polyline points="319.2,150.7 327.4,186.0 338.1,197.8 345.0,200.1 353.3,206.5 361.9,212.0 370.0,216.5 376.9,219.5 384.6,224.2 393.2,224.7 399.3,226.4 407.0,230.6 418.2,229.4 424.2,229.9" fill="none" stroke="#377EB8" stroke-width="1.25" stroke-dasharray="2,2.2"/>
<polyline points="319.2,150.7 338.1,189.2 353.3,193.7 370.8,208.7 387.2,219.0 407.9,227.1 424.2,224.2" fill="none" stroke="#4DAF4A" stroke-width="1.25" stroke-dasharray="4.2,2.6"/>
<polyline points="319.2,150.7 353.3,195.4 387.2,216.1 424.2,216.8" fill="none" stroke="#984EA3" stroke-width="1.25" stroke-dasharray="5,4"/>
<polyline points="319.2,150.7 345.0,194.4 370.8,205.3 399.3,217.3 424.2,215.1" fill="none" stroke="#FF7F00" stroke-width="1.25" stroke-dasharray="1.1,3.5"/>
<circle cx="319.2" cy="150.7" r="2.5" fill="#4DAF4A"/>
<circle cx="338.1" cy="189.2" r="2.5" fill="#4DAF4A"/>
<circle cx="353.3" cy="193.7" r="2.5" fill="#4DAF4A"/>
<circle cx="370.8" cy="208.7" r="2.5" fill="#4DAF4A"/>
<circle cx="387.2" cy="219.0" r="2.5" fill="#4DAF4A"/>
<circle cx="407.9" cy="227.1" r="2.5" fill="#4DAF4A"/>
<circle cx="424.2" cy="224.2" r="2.5" fill="#4DAF4A"/>
<circle cx="319.2" cy="150.7" r="2.5" fill="#984EA3"/>
<circle cx="353.3" cy="195.4" r="2.5" fill="#984EA3"/>
<circle cx="387.2" cy="216.1" r="2.5" fill="#984EA3"/>
<circle cx="424.2" cy="216.8" r="2.5" fill="#984EA3"/>
<circle cx="319.2" cy="150.7" r="2.5" fill="#377EB8"/>
<circle cx="327.4" cy="186.0" r="2.5" fill="#377EB8"/>
<circle cx="338.1" cy="197.8" r="2.5" fill="#377EB8"/>
<circle cx="345.0" cy="200.1" r="2.5" fill="#377EB8"/>
<circle cx="353.3" cy="206.5" r="2.5" fill="#377EB8"/>
<circle cx="361.9" cy="212.0" r="2.5" fill="#377EB8"/>
<circle cx="370.0" cy="216.5" r="2.5" fill="#377EB8"/>
<circle cx="376.9" cy="219.5" r="2.5" fill="#377EB8"/>
<circle cx="384.6" cy="224.2" r="2.5" fill="#377EB8"/>
<circle cx="393.2" cy="224.7" r="2.5" fill="#377EB8"/>
<circle cx="399.3" cy="226.4" r="2.5" fill="#377EB8"/>
<circle cx="407.0" cy="230.6" r="2.5" fill="#377EB8"/>
<circle cx="418.2" cy="229.4" r="2.5" fill="#377EB8"/>
<circle cx="424.2" cy="229.9" r="2.5" fill="#377EB8"/>
<circle cx="319.2" cy="150.7" r="2.5" fill="#E41A1C"/>
<circle cx="327.4" cy="185.1" r="2.5" fill="#E41A1C"/>
<circle cx="333.3" cy="192.7" r="2.5" fill="#E41A1C"/>
<circle cx="338.1" cy="195.8" r="2.5" fill="#E41A1C"/>
<circle cx="341.6" cy="192.0" r="2.5" fill="#E41A1C"/>
<circle cx="345.0" cy="196.6" r="2.5" fill="#E41A1C"/>
<circle cx="349.8" cy="204.0" r="2.5" fill="#E41A1C"/>
<circle cx="353.3" cy="205.3" r="2.5" fill="#E41A1C"/>
<circle cx="358.4" cy="213.0" r="2.5" fill="#E41A1C"/>
<circle cx="361.9" cy="215.6" r="2.5" fill="#E41A1C"/>
<circle cx="366.5" cy="213.0" r="2.5" fill="#E41A1C"/>
<circle cx="370.0" cy="215.6" r="2.5" fill="#E41A1C"/>
<circle cx="373.4" cy="218.5" r="2.5" fill="#E41A1C"/>
<circle cx="376.9" cy="218.2" r="2.5" fill="#E41A1C"/>
<circle cx="379.5" cy="221.3" r="2.5" fill="#E41A1C"/>
<circle cx="382.9" cy="220.8" r="2.5" fill="#E41A1C"/>
<circle cx="386.4" cy="222.0" r="2.5" fill="#E41A1C"/>
<circle cx="388.1" cy="223.0" r="2.5" fill="#E41A1C"/>
<circle cx="393.2" cy="221.3" r="2.5" fill="#E41A1C"/>
<circle cx="395.8" cy="222.5" r="2.5" fill="#E41A1C"/>
<circle cx="399.3" cy="224.2" r="2.5" fill="#E41A1C"/>
<circle cx="407.9" cy="227.1" r="2.5" fill="#E41A1C"/>
<circle cx="418.2" cy="227.1" r="2.5" fill="#E41A1C"/>
<circle cx="424.2" cy="228.9" r="2.5" fill="#E41A1C"/>
<circle cx="319.2" cy="150.7" r="2.5" fill="#FF7F00"/>
<circle cx="345.0" cy="194.4" r="2.5" fill="#FF7F00"/>
<circle cx="370.8" cy="205.3" r="2.5" fill="#FF7F00"/>
<circle cx="399.3" cy="217.3" r="2.5" fill="#FF7F00"/>
<circle cx="424.2" cy="215.1" r="2.5" fill="#FF7F00"/>
<polyline points="444.3,110.9 452.3,76.5 458.3,69.0 463.0,63.8 466.5,65.5 470.5,63.8 474.5,57.5 477.0,54.0 479.0,56.5 483.0,51.5 486.5,50.0 491.0,50.5 494.5,49.5 497.8,49.3 501.3,48.0 504.8,46.7 508.3,45.8 512.2,44.5 517.0,45.4 520.5,46.3 524.0,44.1 532.3,41.2 542.8,41.2 549.0,42.6" fill="none" stroke="#E41A1C" stroke-width="1.25" />
<polyline points="444.3,110.9 452.3,74.5 463.0,62.5 470.0,60.5 477.5,59.0 486.0,54.5 494.5,48.5 501.3,47.0 510.0,42.8 517.0,44.5 524.0,43.5 532.3,41.0 542.8,41.0 549.0,41.4" fill="none" stroke="#377EB8" stroke-width="1.25" stroke-dasharray="2,2.2"/>
<polyline points="444.3,110.9 463.0,70.8 478.5,63.0 496.0,57.5 514.0,48.0 532.3,45.4 549.0,45.8" fill="none" stroke="#4DAF4A" stroke-width="1.25" stroke-dasharray="4.2,2.6"/>
<polyline points="444.3,110.9 478.5,65.0 512.2,51.1 549.0,49.8" fill="none" stroke="#984EA3" stroke-width="1.25" stroke-dasharray="5,4"/>
<polyline points="444.3,110.9 470.0,67.0 496.5,57.7 524.0,50.6 549.0,50.2" fill="none" stroke="#FF7F00" stroke-width="1.25" stroke-dasharray="1.1,3.5"/>
<circle cx="444.3" cy="110.9" r="2.5" fill="#4DAF4A"/>
<circle cx="463.0" cy="70.8" r="2.5" fill="#4DAF4A"/>
<circle cx="478.5" cy="63.0" r="2.5" fill="#4DAF4A"/>
<circle cx="496.0" cy="57.5" r="2.5" fill="#4DAF4A"/>
<circle cx="514.0" cy="48.0" r="2.5" fill="#4DAF4A"/>
<circle cx="532.3" cy="45.4" r="2.5" fill="#4DAF4A"/>
<circle cx="549.0" cy="45.8" r="2.5" fill="#4DAF4A"/>
<circle cx="444.3" cy="110.9" r="2.5" fill="#984EA3"/>
<circle cx="478.5" cy="65.0" r="2.5" fill="#984EA3"/>
<circle cx="512.2" cy="51.1" r="2.5" fill="#984EA3"/>
<circle cx="549.0" cy="49.8" r="2.5" fill="#984EA3"/>
<circle cx="444.3" cy="110.9" r="2.5" fill="#377EB8"/>
<circle cx="452.3" cy="74.5" r="2.5" fill="#377EB8"/>
<circle cx="463.0" cy="62.5" r="2.5" fill="#377EB8"/>
<circle cx="470.0" cy="60.5" r="2.5" fill="#377EB8"/>
<circle cx="477.5" cy="59.0" r="2.5" fill="#377EB8"/>
<circle cx="486.0" cy="54.5" r="2.5" fill="#377EB8"/>
<circle cx="494.5" cy="48.5" r="2.5" fill="#377EB8"/>
<circle cx="501.3" cy="47.0" r="2.5" fill="#377EB8"/>
<circle cx="510.0" cy="42.8" r="2.5" fill="#377EB8"/>
<circle cx="517.0" cy="44.5" r="2.5" fill="#377EB8"/>
<circle cx="524.0" cy="43.5" r="2.5" fill="#377EB8"/>
<circle cx="532.3" cy="41.0" r="2.5" fill="#377EB8"/>
<circle cx="542.8" cy="41.0" r="2.5" fill="#377EB8"/>
<circle cx="549.0" cy="41.4" r="2.5" fill="#377EB8"/>
<circle cx="444.3" cy="110.9" r="2.5" fill="#E41A1C"/>
<circle cx="452.3" cy="76.5" r="2.5" fill="#E41A1C"/>
<circle cx="458.3" cy="69.0" r="2.5" fill="#E41A1C"/>
<circle cx="463.0" cy="63.8" r="2.5" fill="#E41A1C"/>
<circle cx="466.5" cy="65.5" r="2.5" fill="#E41A1C"/>
<circle cx="470.5" cy="63.8" r="2.5" fill="#E41A1C"/>
<circle cx="474.5" cy="57.5" r="2.5" fill="#E41A1C"/>
<circle cx="477.0" cy="54.0" r="2.5" fill="#E41A1C"/>
<circle cx="479.0" cy="56.5" r="2.5" fill="#E41A1C"/>
<circle cx="483.0" cy="51.5" r="2.5" fill="#E41A1C"/>
<circle cx="486.5" cy="50.0" r="2.5" fill="#E41A1C"/>
<circle cx="491.0" cy="50.5" r="2.5" fill="#E41A1C"/>
<circle cx="494.5" cy="49.5" r="2.5" fill="#E41A1C"/>
<circle cx="497.8" cy="49.3" r="2.5" fill="#E41A1C"/>
<circle cx="501.3" cy="48.0" r="2.5" fill="#E41A1C"/>
<circle cx="504.8" cy="46.7" r="2.5" fill="#E41A1C"/>
<circle cx="508.3" cy="45.8" r="2.5" fill="#E41A1C"/>
<circle cx="512.2" cy="44.5" r="2.5" fill="#E41A1C"/>
<circle cx="517.0" cy="45.4" r="2.5" fill="#E41A1C"/>
<circle cx="520.5" cy="46.3" r="2.5" fill="#E41A1C"/>
<circle cx="524.0" cy="44.1" r="2.5" fill="#E41A1C"/>
<circle cx="532.3" cy="41.2" r="2.5" fill="#E41A1C"/>
<circle cx="542.8" cy="41.2" r="2.5" fill="#E41A1C"/>
<circle cx="549.0" cy="42.6" r="2.5" fill="#E41A1C"/>
<circle cx="444.3" cy="110.9" r="2.5" fill="#FF7F00"/>
<circle cx="470.0" cy="67.0" r="2.5" fill="#FF7F00"/>
<circle cx="496.5" cy="57.7" r="2.5" fill="#FF7F00"/>
<circle cx="524.0" cy="50.6" r="2.5" fill="#FF7F00"/>
<circle cx="549.0" cy="50.2" r="2.5" fill="#FF7F00"/>
<polyline points="443.0,149.6 451.4,182.4 457.3,191.5 462.1,197.2 465.6,195.0 469.0,197.6 473.8,205.3 476.2,210.5 482.4,214.8 485.9,216.2 490.5,215.6 494.0,216.9 497.0,218.0 501.0,218.0 503.5,223.0 507.5,223.0 509.0,221.5 511.5,226.0 517.0,224.0 520.0,223.0 523.5,227.5 531.5,232.2 542.0,232.2 548.0,229.5" fill="none" stroke="#E41A1C" stroke-width="1.25" />
<polyline points="443.0,149.6 451.4,183.8 462.1,198.5 469.0,201.0 475.9,204.5 485.4,210.5 494.0,217.5 500.0,222.0 508.0,226.0 517.0,225.0 523.5,225.5 531.5,231.5 542.0,231.5 548.0,231.0" fill="none" stroke="#377EB8" stroke-width="1.25" stroke-dasharray="2,2.2"/>
<polyline points="443.0,149.6 462.1,189.3 477.3,197.0 494.8,208.0 512.0,219.5 531.5,225.0 548.0,224.0" fill="none" stroke="#4DAF4A" stroke-width="1.25" stroke-dasharray="4.2,2.6"/>
<polyline points="443.0,149.6 477.3,196.2 511.2,215.6 548.0,217.5" fill="none" stroke="#984EA3" stroke-width="1.25" stroke-dasharray="5,4"/>
<polyline points="443.0,149.6 469.0,193.3 494.8,205.8 523.0,215.8 548.0,217.5" fill="none" stroke="#FF7F00" stroke-width="1.25" stroke-dasharray="1.1,3.5"/>
<circle cx="443.0" cy="149.6" r="2.5" fill="#4DAF4A"/>
<circle cx="462.1" cy="189.3" r="2.5" fill="#4DAF4A"/>
<circle cx="477.3" cy="197.0" r="2.5" fill="#4DAF4A"/>
<circle cx="494.8" cy="208.0" r="2.5" fill="#4DAF4A"/>
<circle cx="512.0" cy="219.5" r="2.5" fill="#4DAF4A"/>
<circle cx="531.5" cy="225.0" r="2.5" fill="#4DAF4A"/>
<circle cx="548.0" cy="224.0" r="2.5" fill="#4DAF4A"/>
<circle cx="443.0" cy="149.6" r="2.5" fill="#984EA3"/>
<circle cx="477.3" cy="196.2" r="2.5" fill="#984EA3"/>
<circle cx="511.2" cy="215.6" r="2.5" fill="#984EA3"/>
<circle cx="548.0" cy="217.5" r="2.5" fill="#984EA3"/>
<circle cx="443.0" cy="149.6" r="2.5" fill="#377EB8"/>
<circle cx="451.4" cy="183.8" r="2.5" fill="#377EB8"/>
<circle cx="462.1" cy="198.5" r="2.5" fill="#377EB8"/>
<circle cx="469.0" cy="201.0" r="2.5" fill="#377EB8"/>
<circle cx="475.9" cy="204.5" r="2.5" fill="#377EB8"/>
<circle cx="485.4" cy="210.5" r="2.5" fill="#377EB8"/>
<circle cx="494.0" cy="217.5" r="2.5" fill="#377EB8"/>
<circle cx="500.0" cy="222.0" r="2.5" fill="#377EB8"/>
<circle cx="508.0" cy="226.0" r="2.5" fill="#377EB8"/>
<circle cx="517.0" cy="225.0" r="2.5" fill="#377EB8"/>
<circle cx="523.5" cy="225.5" r="2.5" fill="#377EB8"/>
<circle cx="531.5" cy="231.5" r="2.5" fill="#377EB8"/>
<circle cx="542.0" cy="231.5" r="2.5" fill="#377EB8"/>
<circle cx="548.0" cy="231.0" r="2.5" fill="#377EB8"/>
<circle cx="443.0" cy="149.6" r="2.5" fill="#E41A1C"/>
<circle cx="451.4" cy="182.4" r="2.5" fill="#E41A1C"/>
<circle cx="457.3" cy="191.5" r="2.5" fill="#E41A1C"/>
<circle cx="462.1" cy="197.2" r="2.5" fill="#E41A1C"/>
<circle cx="465.6" cy="195.0" r="2.5" fill="#E41A1C"/>
<circle cx="469.0" cy="197.6" r="2.5" fill="#E41A1C"/>
<circle cx="473.8" cy="205.3" r="2.5" fill="#E41A1C"/>
<circle cx="476.2" cy="210.5" r="2.5" fill="#E41A1C"/>
<circle cx="482.4" cy="214.8" r="2.5" fill="#E41A1C"/>
<circle cx="485.9" cy="216.2" r="2.5" fill="#E41A1C"/>
<circle cx="490.5" cy="215.6" r="2.5" fill="#E41A1C"/>
<circle cx="494.0" cy="216.9" r="2.5" fill="#E41A1C"/>
<circle cx="497.0" cy="218.0" r="2.5" fill="#E41A1C"/>
<circle cx="501.0" cy="218.0" r="2.5" fill="#E41A1C"/>
<circle cx="503.5" cy="223.0" r="2.5" fill="#E41A1C"/>
<circle cx="507.5" cy="223.0" r="2.5" fill="#E41A1C"/>
<circle cx="509.0" cy="221.5" r="2.5" fill="#E41A1C"/>
<circle cx="511.5" cy="226.0" r="2.5" fill="#E41A1C"/>
<circle cx="517.0" cy="224.0" r="2.5" fill="#E41A1C"/>
<circle cx="520.0" cy="223.0" r="2.5" fill="#E41A1C"/>
<circle cx="523.5" cy="227.5" r="2.5" fill="#E41A1C"/>
<circle cx="531.5" cy="232.2" r="2.5" fill="#E41A1C"/>
<circle cx="542.0" cy="232.2" r="2.5" fill="#E41A1C"/>
<circle cx="548.0" cy="229.5" r="2.5" fill="#E41A1C"/>
<circle cx="443.0" cy="149.6" r="2.5" fill="#FF7F00"/>
<circle cx="469.0" cy="193.3" r="2.5" fill="#FF7F00"/>
<circle cx="494.8" cy="205.8" r="2.5" fill="#FF7F00"/>
<circle cx="523.0" cy="215.8" r="2.5" fill="#FF7F00"/>
<circle cx="548.0" cy="217.5" r="2.5" fill="#FF7F00"/>
<polyline points="568.6,115.0 576.4,94.4 582.0,75.5 587.0,72.0 590.5,70.0 594.5,69.0 599.0,66.0 602.0,64.0 607.0,61.5 610.5,62.0 615.0,60.5 619.0,59.0 624.4,59.1 628.3,57.8 631.8,56.1 636.2,55.2 641.9,55.8 645.0,56.5 648.5,58.1 656.3,58.1 667.3,57.4 673.0,58.3" fill="none" stroke="#E41A1C" stroke-width="1.25" />
<polyline points="568.6,115.0 576.4,95.0 587.5,73.0 594.5,73.0 601.0,69.0 610.5,66.0 620.0,61.5 625.7,61.3 634.0,59.0 642.3,59.1 648.5,59.0 656.3,58.5 667.3,58.7 673.0,60.0" fill="none" stroke="#377EB8" stroke-width="1.25" stroke-dasharray="2,2.2"/>
<polyline points="568.6,115.0 587.5,75.5 602.5,72.0 620.9,61.8 636.2,58.5 656.3,58.0 673.0,59.5" fill="none" stroke="#4DAF4A" stroke-width="1.25" stroke-dasharray="4.2,2.6"/>
<polyline points="568.6,115.0 602.5,76.5 636.2,60.0 673.0,60.5" fill="none" stroke="#984EA3" stroke-width="1.25" stroke-dasharray="5,4"/>
<polyline points="568.6,115.0 594.5,80.0 620.2,65.4 648.5,64.2 673.0,62.5" fill="none" stroke="#FF7F00" stroke-width="1.25" stroke-dasharray="1.1,3.5"/>
<circle cx="568.6" cy="115.0" r="2.5" fill="#4DAF4A"/>
<circle cx="587.5" cy="75.5" r="2.5" fill="#4DAF4A"/>
<circle cx="602.5" cy="72.0" r="2.5" fill="#4DAF4A"/>
<circle cx="620.9" cy="61.8" r="2.5" fill="#4DAF4A"/>
<circle cx="636.2" cy="58.5" r="2.5" fill="#4DAF4A"/>
<circle cx="656.3" cy="58.0" r="2.5" fill="#4DAF4A"/>
<circle cx="673.0" cy="59.5" r="2.5" fill="#4DAF4A"/>
<circle cx="568.6" cy="115.0" r="2.5" fill="#984EA3"/>
<circle cx="602.5" cy="76.5" r="2.5" fill="#984EA3"/>
<circle cx="636.2" cy="60.0" r="2.5" fill="#984EA3"/>
<circle cx="673.0" cy="60.5" r="2.5" fill="#984EA3"/>
<circle cx="568.6" cy="115.0" r="2.5" fill="#377EB8"/>
<circle cx="576.4" cy="95.0" r="2.5" fill="#377EB8"/>
<circle cx="587.5" cy="73.0" r="2.5" fill="#377EB8"/>
<circle cx="594.5" cy="73.0" r="2.5" fill="#377EB8"/>
<circle cx="601.0" cy="69.0" r="2.5" fill="#377EB8"/>
<circle cx="610.5" cy="66.0" r="2.5" fill="#377EB8"/>
<circle cx="620.0" cy="61.5" r="2.5" fill="#377EB8"/>
<circle cx="625.7" cy="61.3" r="2.5" fill="#377EB8"/>
<circle cx="634.0" cy="59.0" r="2.5" fill="#377EB8"/>
<circle cx="642.3" cy="59.1" r="2.5" fill="#377EB8"/>
<circle cx="648.5" cy="59.0" r="2.5" fill="#377EB8"/>
<circle cx="656.3" cy="58.5" r="2.5" fill="#377EB8"/>
<circle cx="667.3" cy="58.7" r="2.5" fill="#377EB8"/>
<circle cx="673.0" cy="60.0" r="2.5" fill="#377EB8"/>
<circle cx="568.6" cy="115.0" r="2.5" fill="#E41A1C"/>
<circle cx="576.4" cy="94.4" r="2.5" fill="#E41A1C"/>
<circle cx="582.0" cy="75.5" r="2.5" fill="#E41A1C"/>
<circle cx="587.0" cy="72.0" r="2.5" fill="#E41A1C"/>
<circle cx="590.5" cy="70.0" r="2.5" fill="#E41A1C"/>
<circle cx="594.5" cy="69.0" r="2.5" fill="#E41A1C"/>
<circle cx="599.0" cy="66.0" r="2.5" fill="#E41A1C"/>
<circle cx="602.0" cy="64.0" r="2.5" fill="#E41A1C"/>
<circle cx="607.0" cy="61.5" r="2.5" fill="#E41A1C"/>
<circle cx="610.5" cy="62.0" r="2.5" fill="#E41A1C"/>
<circle cx="615.0" cy="60.5" r="2.5" fill="#E41A1C"/>
<circle cx="619.0" cy="59.0" r="2.5" fill="#E41A1C"/>
<circle cx="624.4" cy="59.1" r="2.5" fill="#E41A1C"/>
<circle cx="628.3" cy="57.8" r="2.5" fill="#E41A1C"/>
<circle cx="631.8" cy="56.1" r="2.5" fill="#E41A1C"/>
<circle cx="636.2" cy="55.2" r="2.5" fill="#E41A1C"/>
<circle cx="641.9" cy="55.8" r="2.5" fill="#E41A1C"/>
<circle cx="645.0" cy="56.5" r="2.5" fill="#E41A1C"/>
<circle cx="648.5" cy="58.1" r="2.5" fill="#E41A1C"/>
<circle cx="656.3" cy="58.1" r="2.5" fill="#E41A1C"/>
<circle cx="667.3" cy="57.4" r="2.5" fill="#E41A1C"/>
<circle cx="673.0" cy="58.3" r="2.5" fill="#E41A1C"/>
<circle cx="568.6" cy="115.0" r="2.5" fill="#FF7F00"/>
<circle cx="594.5" cy="80.0" r="2.5" fill="#FF7F00"/>
<circle cx="620.2" cy="65.4" r="2.5" fill="#FF7F00"/>
<circle cx="648.5" cy="64.2" r="2.5" fill="#FF7F00"/>
<circle cx="673.0" cy="62.5" r="2.5" fill="#FF7F00"/>
<polyline points="567.4,146.4 575.6,164.4 581.5,183.5 586.0,187.5 589.5,189.0 593.5,190.5 598.0,194.0 601.0,196.5 606.0,200.0 609.5,199.5 614.0,201.5 619.0,203.5 624.0,203.3 627.5,204.9 630.7,207.2 633.8,206.3 635.6,208.7 641.5,208.3 644.2,207.2 647.4,205.6 655.6,205.4 666.4,206.3 672.3,205.4" fill="none" stroke="#E41A1C" stroke-width="1.25" />
<polyline points="567.4,146.4 575.6,165.0 586.0,185.5 593.5,186.5 600.0,191.0 609.5,195.0 619.0,200.0 624.8,201.7 633.5,203.5 641.5,204.0 647.4,204.5 655.6,204.0 666.4,204.5 672.3,202.6" fill="none" stroke="#377EB8" stroke-width="1.25" stroke-dasharray="2,2.2"/>
<polyline points="567.4,146.4 586.5,184.0 601.5,188.0 619.4,199.9 635.6,204.5 655.6,204.9 672.3,204.0" fill="none" stroke="#4DAF4A" stroke-width="1.25" stroke-dasharray="4.2,2.6"/>
<polyline points="567.4,146.4 601.5,183.0 635.6,203.1 672.3,201.3" fill="none" stroke="#984EA3" stroke-width="1.25" stroke-dasharray="5,4"/>
<polyline points="567.4,146.4 593.5,179.0 619.4,195.9 647.4,197.5 672.3,199.5" fill="none" stroke="#FF7F00" stroke-width="1.25" stroke-dasharray="1.1,3.5"/>
<circle cx="567.4" cy="146.4" r="2.5" fill="#4DAF4A"/>
<circle cx="586.5" cy="184.0" r="2.5" fill="#4DAF4A"/>
<circle cx="601.5" cy="188.0" r="2.5" fill="#4DAF4A"/>
<circle cx="619.4" cy="199.9" r="2.5" fill="#4DAF4A"/>
<circle cx="635.6" cy="204.5" r="2.5" fill="#4DAF4A"/>
<circle cx="655.6" cy="204.9" r="2.5" fill="#4DAF4A"/>
<circle cx="672.3" cy="204.0" r="2.5" fill="#4DAF4A"/>
<circle cx="567.4" cy="146.4" r="2.5" fill="#984EA3"/>
<circle cx="601.5" cy="183.0" r="2.5" fill="#984EA3"/>
<circle cx="635.6" cy="203.1" r="2.5" fill="#984EA3"/>
<circle cx="672.3" cy="201.3" r="2.5" fill="#984EA3"/>
<circle cx="567.4" cy="146.4" r="2.5" fill="#377EB8"/>
<circle cx="575.6" cy="165.0" r="2.5" fill="#377EB8"/>
<circle cx="586.0" cy="185.5" r="2.5" fill="#377EB8"/>
<circle cx="593.5" cy="186.5" r="2.5" fill="#377EB8"/>
<circle cx="600.0" cy="191.0" r="2.5" fill="#377EB8"/>
<circle cx="609.5" cy="195.0" r="2.5" fill="#377EB8"/>
<circle cx="619.0" cy="200.0" r="2.5" fill="#377EB8"/>
<circle cx="624.8" cy="201.7" r="2.5" fill="#377EB8"/>
<circle cx="633.5" cy="203.5" r="2.5" fill="#377EB8"/>
<circle cx="641.5" cy="204.0" r="2.5" fill="#377EB8"/>
<circle cx="647.4" cy="204.5" r="2.5" fill="#377EB8"/>
<circle cx="655.6" cy="204.0" r="2.5" fill="#377EB8"/>
<circle cx="666.4" cy="204.5" r="2.5" fill="#377EB8"/>
<circle cx="672.3" cy="202.6" r="2.5" fill="#377EB8"/>
<circle cx="567.4" cy="146.4" r="2.5" fill="#E41A1C"/>
<circle cx="575.6" cy="164.4" r="2.5" fill="#E41A1C"/>
<circle cx="581.5" cy="183.5" r="2.5" fill="#E41A1C"/>
<circle cx="586.0" cy="187.5" r="2.5" fill="#E41A1C"/>
<circle cx="589.5" cy="189.0" r="2.5" fill="#E41A1C"/>
<circle cx="593.5" cy="190.5" r="2.5" fill="#E41A1C"/>
<circle cx="598.0" cy="194.0" r="2.5" fill="#E41A1C"/>
<circle cx="601.0" cy="196.5" r="2.5" fill="#E41A1C"/>
<circle cx="606.0" cy="200.0" r="2.5" fill="#E41A1C"/>
<circle cx="609.5" cy="199.5" r="2.5" fill="#E41A1C"/>
<circle cx="614.0" cy="201.5" r="2.5" fill="#E41A1C"/>
<circle cx="619.0" cy="203.5" r="2.5" fill="#E41A1C"/>
<circle cx="624.0" cy="203.3" r="2.5" fill="#E41A1C"/>
<circle cx="627.5" cy="204.9" r="2.5" fill="#E41A1C"/>
<circle cx="630.7" cy="207.2" r="2.5" fill="#E41A1C"/>
<circle cx="633.8" cy="206.3" r="2.5" fill="#E41A1C"/>
<circle cx="635.6" cy="208.7" r="2.5" fill="#E41A1C"/>
<circle cx="641.5" cy="208.3" r="2.5" fill="#E41A1C"/>
<circle cx="644.2" cy="207.2" r="2.5" fill="#E41A1C"/>
<circle cx="647.4" cy="205.6" r="2.5" fill="#E41A1C"/>
<circle cx="655.6" cy="205.4" r="2.5" fill="#E41A1C"/>
<circle cx="666.4" cy="206.3" r="2.5" fill="#E41A1C"/>
<circle cx="672.3" cy="205.4" r="2.5" fill="#E41A1C"/>
<circle cx="567.4" cy="146.4" r="2.5" fill="#FF7F00"/>
<circle cx="593.5" cy="179.0" r="2.5" fill="#FF7F00"/>
<circle cx="619.4" cy="195.9" r="2.5" fill="#FF7F00"/>
<circle cx="647.4" cy="197.5" r="2.5" fill="#FF7F00"/>
<circle cx="672.3" cy="199.5" r="2.5" fill="#FF7F00"/>
<path d="M66.8,29.9 L66.8,120.7 L182,120.7" fill="none" stroke="#000" stroke-width="2.1"/>
<path d="M65.8,139.8 L65.8,242.2 L181,242.2" fill="none" stroke="#000" stroke-width="2.1"/>
<line x1="86.70" y1="242.2" x2="86.70" y2="246.6" stroke="#000" stroke-width="2"/>
<text x="86.70" y="260.8" font-family="Liberation Sans, sans-serif" font-size="14.1" text-anchor="middle">25</text>
<line x1="116.10" y1="242.2" x2="116.10" y2="246.6" stroke="#000" stroke-width="2"/>
<text x="116.10" y="260.8" font-family="Liberation Sans, sans-serif" font-size="14.1" text-anchor="middle">50</text>
<line x1="145.50" y1="242.2" x2="145.50" y2="246.6" stroke="#000" stroke-width="2"/>
<text x="145.50" y="260.8" font-family="Liberation Sans, sans-serif" font-size="14.1" text-anchor="middle">75</text>
<line x1="174.90" y1="242.2" x2="174.90" y2="246.6" stroke="#000" stroke-width="2"/>
<text x="174.90" y="260.8" font-family="Liberation Sans, sans-serif" font-size="14.1" text-anchor="middle">100</text>
<line x1="191" y1="120.7" x2="306" y2="120.7" stroke="#000" stroke-width="2.1"/>
<line x1="190" y1="242.2" x2="305" y2="242.2" stroke="#000" stroke-width="2.1"/>
<line x1="210.70" y1="242.2" x2="210.70" y2="246.6" stroke="#000" stroke-width="2"/>
<text x="210.70" y="260.8" font-family="Liberation Sans, sans-serif" font-size="14.1" text-anchor="middle">25</text>
<line x1="240.10" y1="242.2" x2="240.10" y2="246.6" stroke="#000" stroke-width="2"/>
<text x="240.10" y="260.8" font-family="Liberation Sans, sans-serif" font-size="14.1" text-anchor="middle">50</text>
<line x1="269.50" y1="242.2" x2="269.50" y2="246.6" stroke="#000" stroke-width="2"/>
<text x="269.50" y="260.8" font-family="Liberation Sans, sans-serif" font-size="14.1" text-anchor="middle">75</text>
<line x1="298.90" y1="242.2" x2="298.90" y2="246.6" stroke="#000" stroke-width="2"/>
<text x="298.90" y="260.8" font-family="Liberation Sans, sans-serif" font-size="14.1" text-anchor="middle">100</text>
<line x1="315" y1="120.7" x2="430" y2="120.7" stroke="#000" stroke-width="2.1"/>
<line x1="314" y1="242.2" x2="429" y2="242.2" stroke="#000" stroke-width="2.1"/>
<line x1="334.70" y1="242.2" x2="334.70" y2="246.6" stroke="#000" stroke-width="2"/>
<text x="334.70" y="260.8" font-family="Liberation Sans, sans-serif" font-size="14.1" text-anchor="middle">25</text>
<line x1="364.10" y1="242.2" x2="364.10" y2="246.6" stroke="#000" stroke-width="2"/>
<text x="364.10" y="260.8" font-family="Liberation Sans, sans-serif" font-size="14.1" text-anchor="middle">50</text>
<line x1="393.50" y1="242.2" x2="393.50" y2="246.6" stroke="#000" stroke-width="2"/>
<text x="393.50" y="260.8" font-family="Liberation Sans, sans-serif" font-size="14.1" text-anchor="middle">75</text>
<line x1="422.90" y1="242.2" x2="422.90" y2="246.6" stroke="#000" stroke-width="2"/>
<text x="422.90" y="260.8" font-family="Liberation Sans, sans-serif" font-size="14.1" text-anchor="middle">100</text>
<line x1="439" y1="120.7" x2="554" y2="120.7" stroke="#000" stroke-width="2.1"/>
<line x1="438" y1="242.2" x2="553" y2="242.2" stroke="#000" stroke-width="2.1"/>
<line x1="458.70" y1="242.2" x2="458.70" y2="246.6" stroke="#000" stroke-width="2"/>
<text x="458.70" y="260.8" font-family="Liberation Sans, sans-serif" font-size="14.1" text-anchor="middle">25</text>
<line x1="488.10" y1="242.2" x2="488.10" y2="246.6" stroke="#000" stroke-width="2"/>
<text x="488.10" y="260.8" font-family="Liberation Sans, sans-serif" font-size="14.1" text-anchor="middle">50</text>
<line x1="517.50" y1="242.2" x2="517.50" y2="246.6" stroke="#000" stroke-width="2"/>
<text x="517.50" y="260.8" font-family="Liberation Sans, sans-serif" font-size="14.1" text-anchor="middle">75</text>
<line x1="546.90" y1="242.2" x2="546.90" y2="246.6" stroke="#000" stroke-width="2"/>
<text x="546.90" y="260.8" font-family="Liberation Sans, sans-serif" font-size="14.1" text-anchor="middle">100</text>
<line x1="563" y1="120.7" x2="678" y2="120.7" stroke="#000" stroke-width="2.1"/>
<line x1="562" y1="242.2" x2="677" y2="242.2" stroke="#000" stroke-width="2.1"/>
<line x1="582.70" y1="242.2" x2="582.70" y2="246.6" stroke="#000" stroke-width="2"/>
<text x="582.70" y="260.8" font-family="Liberation Sans, sans-serif" font-size="14.1" text-anchor="middle">25</text>
<line x1="612.10" y1="242.2" x2="612.10" y2="246.6" stroke="#000" stroke-width="2"/>
<text x="612.10" y="260.8" font-family="Liberation Sans, sans-serif" font-size="14.1" text-anchor="middle">50</text>
<line x1="641.50" y1="242.2" x2="641.50" y2="246.6" stroke="#000" stroke-width="2"/>
<text x="641.50" y="260.8" font-family="Liberation Sans, sans-serif" font-size="14.1" text-anchor="middle">75</text>
<line x1="670.90" y1="242.2" x2="670.90" y2="246.6" stroke="#000" stroke-width="2"/>
<text x="670.90" y="260.8" font-family="Liberation Sans, sans-serif" font-size="14.1" text-anchor="middle">100</text>
<line x1="62.6" y1="116.60" x2="67" y2="116.60" stroke="#000" stroke-width="2"/>
<text x="59.3" y="121.60" font-family="Liberation Sans, sans-serif" font-size="14.1" text-anchor="end">0.10</text>
<line x1="62.6" y1="101.04" x2="67" y2="101.04" stroke="#000" stroke-width="2"/>
<text x="59.3" y="106.04" font-family="Liberation Sans, sans-serif" font-size="14.1" text-anchor="end">0.25</text>
<line x1="62.6" y1="85.48" x2="67" y2="85.48" stroke="#000" stroke-width="2"/>
<text x="59.3" y="90.48" font-family="Liberation Sans, sans-serif" font-size="14.1" text-anchor="end">0.40</text>
<line x1="62.6" y1="69.92" x2="67" y2="69.92" stroke="#000" stroke-width="2"/>
<text x="59.3" y="74.92" font-family="Liberation Sans, sans-serif" font-size="14.1" text-anchor="end">0.55</text>
<line x1="62.6" y1="54.36" x2="67" y2="54.36" stroke="#000" stroke-width="2"/>
<text x="59.3" y="59.36" font-family="Liberation Sans, sans-serif" font-size="14.1" text-anchor="end">0.70</text>
<line x1="62.6" y1="38.80" x2="67" y2="38.80" stroke="#000" stroke-width="2"/>
<text x="59.3" y="43.80" font-family="Liberation Sans, sans-serif" font-size="14.1" text-anchor="end">0.85</text>
<line x1="61.6" y1="237.40" x2="66" y2="237.40" stroke="#000" stroke-width="2"/>
<text x="58.3" y="242.70" font-family="Liberation Sans, sans-serif" font-size="14.1" text-anchor="end">400</text>
<line x1="61.6" y1="221.90" x2="66" y2="221.90" stroke="#000" stroke-width="2"/>
<text x="58.3" y="227.20" font-family="Liberation Sans, sans-serif" font-size="14.1" text-anchor="end">500</text>
<line x1="61.6" y1="206.40" x2="66" y2="206.40" stroke="#000" stroke-width="2"/>
<text x="58.3" y="211.70" font-family="Liberation Sans, sans-serif" font-size="14.1" text-anchor="end">600</text>
<line x1="61.6" y1="190.90" x2="66" y2="190.90" stroke="#000" stroke-width="2"/>
<text x="58.3" y="196.20" font-family="Liberation Sans, sans-serif" font-size="14.1" text-anchor="end">700</text>
<line x1="61.6" y1="175.40" x2="66" y2="175.40" stroke="#000" stroke-width="2"/>
<text x="58.3" y="180.70" font-family="Liberation Sans, sans-serif" font-size="14.1" text-anchor="end">800</text>
<line x1="61.6" y1="159.90" x2="66" y2="159.90" stroke="#000" stroke-width="2"/>
<text x="58.3" y="165.20" font-family="Liberation Sans, sans-serif" font-size="14.1" text-anchor="end">900</text>
<line x1="61.6" y1="144.40" x2="66" y2="144.40" stroke="#000" stroke-width="2"/>
<text x="58.3" y="149.70" font-family="Liberation Sans, sans-serif" font-size="14.1" text-anchor="end">1000</text>
<text transform="translate(16.0,75.1) rotate(-90)" font-family="Liberation Sans, sans-serif" font-weight="bold" font-size="17.6" text-anchor="middle">R<tspan font-size="9.6" dy="-5.6">2</tspan></text>
<text transform="translate(15.2,191.5) rotate(-90)" font-family="Liberation Sans, sans-serif" font-weight="bold" font-size="17.6" text-anchor="middle">RMSE (g/plant)</text>
<text x="372.2" y="280.7" font-family="Liberation Sans, sans-serif" font-weight="bold" font-size="18.4" text-anchor="middle">DAT</text>
<text x="266.8" y="315.0" font-family="Liberation Sans, sans-serif" font-weight="bold" font-size="16.7">Multi-temporal resolutions:</text>
<circle cx="136.6" cy="339.4" r="2.55" fill="#E41A1C"/>
<text x="146.29999999999998" y="337.1" font-family="Liberation Sans, sans-serif" font-size="15.55">All TPs</text>
<text x="146.2" y="354.0" font-family="Liberation Sans, sans-serif" font-size="15.55">(26 TPs)</text>
<circle cx="215.1" cy="339.4" r="2.55" fill="#377EB8"/>
<text x="224.7" y="337.1" font-family="Liberation Sans, sans-serif" font-size="15.55">7-day</text>
<text x="224.6" y="354.0" font-family="Liberation Sans, sans-serif" font-size="15.55">(14 TPs)</text>
<circle cx="293.3" cy="339.4" r="2.55" fill="#4DAF4A"/>
<text x="303.7" y="337.1" font-family="Liberation Sans, sans-serif" font-size="15.55">15-day</text>
<text x="303.6" y="354.0" font-family="Liberation Sans, sans-serif" font-size="15.55">(7 TPs)</text>
<circle cx="363.7" cy="339.4" r="2.55" fill="#984EA3"/>
<text x="373.0" y="337.1" font-family="Liberation Sans, sans-serif" font-size="15.55">30-day</text>
<text x="372.90000000000003" y="354.0" font-family="Liberation Sans, sans-serif" font-size="15.55">(4 TPs)</text>
<circle cx="433.5" cy="339.4" r="2.55" fill="#FF7F00"/>
<text x="443.2" y="337.1" font-family="Liberation Sans, sans-serif" font-size="15.55">Growth pattern</text>
<text x="443.1" y="354.0" font-family="Liberation Sans, sans-serif" font-size="15.55">(5 TPs)</text>
<rect x="163.90" y="259.26" width="2.74" height="2.54" fill="#fff"/>
<rect x="167.98" y="259.26" width="2.66" height="2.54" fill="#fff"/>
<rect x="287.90" y="259.26" width="2.74" height="2.54" fill="#fff"/>
<rect x="291.98" y="259.26" width="2.66" height="2.54" fill="#fff"/>
<rect x="411.90" y="259.26" width="2.74" height="2.54" fill="#fff"/>
<rect x="415.98" y="259.26" width="2.66" height="2.54" fill="#fff"/>
<rect x="535.90" y="259.26" width="2.74" height="2.54" fill="#fff"/>
<rect x="539.98" y="259.26" width="2.66" height="2.54" fill="#fff"/>
<rect x="659.90" y="259.26" width="2.74" height="2.54" fill="#fff"/>
<rect x="663.98" y="259.26" width="2.66" height="2.54" fill="#fff"/>
<rect x="44.37" y="120.06" width="2.74" height="2.54" fill="#fff"/>
<rect x="48.45" y="120.06" width="2.66" height="2.54" fill="#fff"/>
<rect x="27.70" y="148.16" width="2.74" height="2.54" fill="#fff"/>
<rect x="31.78" y="148.16" width="2.66" height="2.54" fill="#fff"/>
<rect x="230.61" y="352.35" width="3.02" height="2.65" fill="#fff"/>
<rect x="235.11" y="352.35" width="2.94" height="2.65" fill="#fff"/>
<rect x="304.54" y="335.45" width="3.02" height="2.65" fill="#fff"/>
<rect x="309.04" y="335.45" width="2.94" height="2.65" fill="#fff"/>
</svg>
</body></html>
